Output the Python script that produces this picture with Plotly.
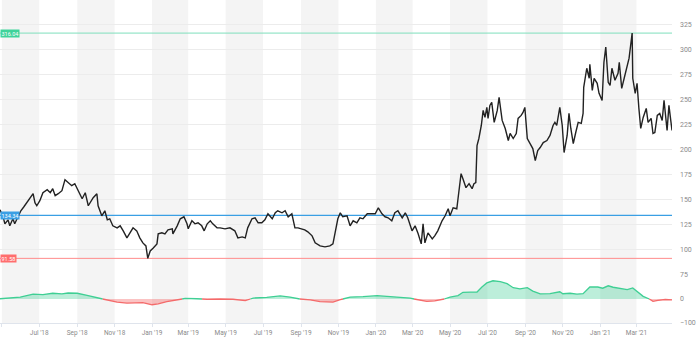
import plotly.graph_objects as go
import pandas as pd

price_dates = ["2018-04-28","2018-05-03","2018-05-06","2018-05-11","2018-05-14","2018-05-19","2018-05-22","2018-05-27","2018-06-01","2018-06-06","2018-06-11","2018-06-16","2018-06-21","2018-06-24","2018-06-27","2018-07-02","2018-07-07","2018-07-14","2018-07-19","2018-07-23","2018-07-27","2018-08-01","2018-08-07","2018-08-12","2018-08-17","2018-08-23","2018-08-28","2018-09-02","2018-09-09","2018-09-14","2018-09-19","2018-09-27","2018-10-03","2018-10-05","2018-10-11","2018-10-16","2018-10-20","2018-10-24","2018-10-29","2018-11-05","2018-11-10","2018-11-15","2018-11-21","2018-11-26","2018-12-01","2018-12-07","2018-12-12","2018-12-17","2018-12-22","2018-12-25","2018-12-29","2019-01-03","2019-01-09","2019-01-11","2019-01-17","2019-01-22","2019-01-27","2019-02-03","2019-02-04","2019-02-11","2019-02-16","2019-02-22","2019-02-27","2019-03-01","2019-03-07","2019-03-12","2019-03-17","2019-03-23","2019-03-27","2019-04-01","2019-04-06","2019-04-10","2019-04-17","2019-04-22","2019-04-30","2019-05-08","2019-05-16","2019-05-21","2019-05-28","2019-06-02","2019-06-06","2019-06-13","2019-06-18","2019-06-23","2019-06-29","2019-07-04","2019-07-09","2019-07-16","2019-07-21","2019-07-25","2019-08-01","2019-08-06","2019-08-11","2019-08-17","2019-08-22","2019-08-27","2019-09-03","2019-09-07","2019-09-12","2019-09-19","2019-09-24","2019-10-02","2019-10-10","2019-10-18","2019-10-23","2019-10-28","2019-10-31","2019-11-04","2019-11-08","2019-11-15","2019-11-20","2019-11-25","2019-12-01","2019-12-06","2019-12-11","2019-12-18","2019-12-26","2019-12-31","2020-01-05","2020-01-11","2020-01-16","2020-01-21","2020-01-27","2020-02-01","2020-02-06","2020-02-13","2020-02-18","2020-02-22","2020-02-29","2020-03-05","2020-03-10","2020-03-15","2020-03-18","2020-03-21","2020-03-26","2020-04-02","2020-04-06","2020-04-11","2020-04-18","2020-04-23","2020-04-28","2020-05-01","2020-05-06","2020-05-12","2020-05-14","2020-05-19","2020-05-22","2020-05-27","2020-06-01","2020-06-06","2020-06-09","2020-06-12","2020-06-14","2020-06-17","2020-06-21","2020-06-24","2020-06-27","2020-06-30","2020-07-02","2020-07-05","2020-07-08","2020-07-12","2020-07-17","2020-07-20","2020-07-25","2020-07-30","2020-08-04","2020-08-07","2020-08-12","2020-08-17","2020-08-20","2020-08-25","2020-08-28","2020-08-31","2020-09-04","2020-09-08","2020-09-13","2020-09-17","2020-09-21","2020-09-25","2020-09-30","2020-10-06","2020-10-11","2020-10-16","2020-10-19","2020-10-22","2020-10-27","2020-10-31","2020-11-03","2020-11-08","2020-11-11","2020-11-14","2020-11-18","2020-11-22","2020-11-26","2020-12-01","2020-12-04","2020-12-05","2020-12-10","2020-12-14","2020-12-15","2020-12-19","2020-12-22","2020-12-27","2020-12-30","2021-01-04","2021-01-07","2021-01-10","2021-01-14","2021-01-17","2021-01-20","2021-01-25","2021-01-30","2021-02-01","2021-02-05","2021-02-09","2021-02-14","2021-02-17","2021-02-22","2021-02-23","2021-02-27","2021-03-02","2021-03-05","2021-03-08","2021-03-12","2021-03-17","2021-03-20","2021-03-25","2021-03-28","2021-03-31","2021-04-04","2021-04-08","2021-04-12","2021-04-15","2021-04-20","2021-04-23","2021-04-28"]

price_values = [140,133,126,130,124,131,126,132,139,143,147,152,156,147,144,149,157,160,157,161,154,156,159,170,167,164,166,159,151,157,144,152,156,144,134,139,130,131,124,122,124,119,112,117,122,119,112,107,104,91.6,99,102,106,116,117,116,120,121,116,124,131,133,126,121,129,126,127,124,119,126,129,126,122,122,121,122,119,112,113,112,122,131,132,127,127,130,136,131,137,139,137,139,133,136,122,122,121,120,118,114,107,104,103,104,106,122,131,137,133,134,124,129,127,132,131,136,136,136,142,136,133,132,129,137,139,132,137,132,119,124,116,106,126,107,117,111,114,119,129,134,141,134,142,141,151,176,171,162,166,161,166,167,204,211,224,239,232,242,231,244,247,227,239,252,229,221,209,216,211,216,231,234,237,242,211,207,201,189,199,202,207,209,214,224,227,224,242,224,197,214,236,221,206,217,227,226,236,262,281,271,285,259,271,266,256,249,287,302,267,264,281,269,276,287,261,271,284,291,316,271,256,266,241,221,232,241,227,231,216,217,234,236,229,249,219,244,219]

osc_dates = ["2018-04-28","2018-05-14","2018-05-31","2018-06-21","2018-07-07","2018-07-23","2018-08-07","2018-08-17","2018-09-01","2018-09-17","2018-09-27","2018-10-08","2018-10-20","2018-11-05","2018-11-21","2018-12-07","2018-12-17","2019-01-01","2019-01-11","2019-01-25","2019-02-11","2019-02-24","2019-03-15","2019-04-01","2019-04-22","2019-05-13","2019-06-02","2019-06-15","2019-07-07","2019-07-29","2019-08-14","2019-08-30","2019-09-16","2019-10-02","2019-10-23","2019-11-04","2019-11-20","2019-12-11","2020-01-03","2020-01-19","2020-02-09","2020-02-26","2020-03-08","2020-03-24","2020-04-06","2020-04-18","2020-05-01","2020-05-14","2020-05-22","2020-06-03","2020-06-14","2020-06-22","2020-06-30","2020-07-10","2020-07-22","2020-08-02","2020-08-12","2020-08-23","2020-09-04","2020-09-13","2020-09-25","2020-10-11","2020-10-27","2020-11-01","2020-11-13","2020-11-24","2020-12-04","2020-12-15","2020-12-28","2021-01-05","2021-01-14","2021-01-22","2021-02-02","2021-02-14","2021-02-23","2021-03-02","2021-03-12","2021-03-22","2021-03-28","2021-04-05","2021-04-17","2021-04-28"]

osc_values = [1,4,8,20,18,24,21,25,24,15,8,3,-5,-13,-17,-14,-15,-24,-20,-11,-5,3,1,-1,0,-1,-7,4,7,13,8,0,-4,-11,-13,-3,8,10,14,11,8,4,-3,-10,-8,-3,8,14,28,29,29,50,67,76,72,64,47,42,47,33,21,22,30,22,24,20,22,50,50,45,55,49,45,39,46,32,11,0,-10,-6,-2,-4]

level_values = [316.04, 134.34, 91.58]
level_labels = ["316.04", "134.34", "91.58"]

price_ticks = [75, 100, 125, 150, 175, 200, 225, 250, 275, 300, 325]
osc_ticks = [-100, 0]

if len(price_dates) != len(price_values) or len(osc_dates) != len(osc_values):
    raise SystemExit(f"len mismatch {len(price_dates)} {len(price_values)} {len(osc_dates)} {len(osc_values)}")

level_line_colors = ["rgb(127,223,188)", "rgb(58,159,228)", "rgb(255,140,140)"]
level_line_widths = [1, 1.2, 1]
level_box_colors = ["rgb(63,211,154)", "rgb(58,159,228)", "rgb(255,110,110)"]

# split oscillator into positive / negative parts with zero crossings
t = pd.to_datetime(pd.Series(osc_dates))
pos_x, pos_y, neg_x, neg_y = [], [], [], []
for i, v in enumerate(osc_values):
    if i > 0:
        v0 = osc_values[i - 1]
        if (v0 > 0 and v < 0) or (v0 < 0 and v > 0):
            frac = v0 / (v0 - v)
            tc = t[i - 1] + (t[i] - t[i - 1]) * frac
            pos_x.append(tc); pos_y.append(0)
            neg_x.append(tc); neg_y.append(0)
    if v > 0:
        pos_x.append(t[i]); pos_y.append(v)
        neg_x.append(t[i]); neg_y.append(None)
    elif v < 0:
        neg_x.append(t[i]); neg_y.append(v)
        pos_x.append(t[i]); pos_y.append(None)
    else:
        pos_x.append(t[i]); pos_y.append(0)
        neg_x.append(t[i]); neg_y.append(0)

fig = go.Figure()

# alternating two-month background bands, full plot height
band_starts = pd.date_range("2018-05-01", "2021-04-28", freq="4MS")
for b in band_starts:
    fig.add_shape(type="rect", xref="x", yref="paper",
                  x0=b, x1=b + pd.DateOffset(months=2), y0=0, y1=1,
                  fillcolor="#f4f4f4", line=dict(width=0), layer="below")

fig.add_trace(go.Scatter(x=pos_x, y=pos_y, yaxis="y2", mode="lines",
                         line=dict(color="#3fcf94", width=1.3),
                         fill="tozeroy", fillcolor="rgba(63,207,148,0.35)",
                         connectgaps=False, hoverinfo="skip"))
fig.add_trace(go.Scatter(x=neg_x, y=neg_y, yaxis="y2", mode="lines",
                         line=dict(color="#f46a6a", width=1.3),
                         fill="tozeroy", fillcolor="rgba(244,106,106,0.4)",
                         connectgaps=False, hoverinfo="skip"))

# level lines as traces on the price axis
for val, lc, lw in zip(level_values, level_line_colors, level_line_widths):
    fig.add_trace(go.Scatter(x=["2018-04-28", "2021-04-28"], y=[val, val], yaxis="y",
                             mode="lines", line=dict(color=lc, width=lw),
                             hoverinfo="skip"))

fig.add_trace(go.Scatter(x=price_dates, y=price_values, yaxis="y", mode="lines",
                         line=dict(color="#222222", width=1.4)))

for val, lab, bc in zip(level_values, level_labels, level_box_colors):
    fig.add_annotation(x=0, xref="paper", xanchor="left", y=val, yref="y",
                       text=lab, showarrow=False, bgcolor=bc,
                       font=dict(size=5.5, color="white", family="Roboto"),
                       borderpad=0.5)

fig.update_layout(
    width=700, height=337,
    margin=dict(l=0, r=28, t=0, b=14),
    plot_bgcolor="white", paper_bgcolor="white",
    showlegend=False,
    font=dict(family="Roboto", size=7, color="#8a8a8a"),
    xaxis=dict(type="date", range=["2018-04-28", "2021-04-28"],
               tick0="2018-05-01", dtick="M2", tickformat="%b '%y",
               showgrid=False, showline=True, linecolor="#dfe4ec", linewidth=1,
               ticks="outside", ticklen=3, tickcolor="#dfe4ec",
               tickfont=dict(size=6.5, color="#8a8a8a"), anchor="y2", zeroline=False),
    yaxis=dict(domain=[0.1486, 1], range=[75, 349], side="right",
               tickvals=price_ticks, gridcolor="#ececec", zeroline=False,
               tickfont=dict(size=7, color="#8a8a8a"), ticklabelstandoff=7,
               anchor="x"),
    yaxis2=dict(domain=[0, 0.1486], range=[-100, 100], side="right",
                tickvals=osc_ticks, showgrid=False, zeroline=False,
                tickfont=dict(size=7, color="#8a8a8a"), ticklabelstandoff=7,
                anchor="x"),
)

fig.write_html("out.html")
